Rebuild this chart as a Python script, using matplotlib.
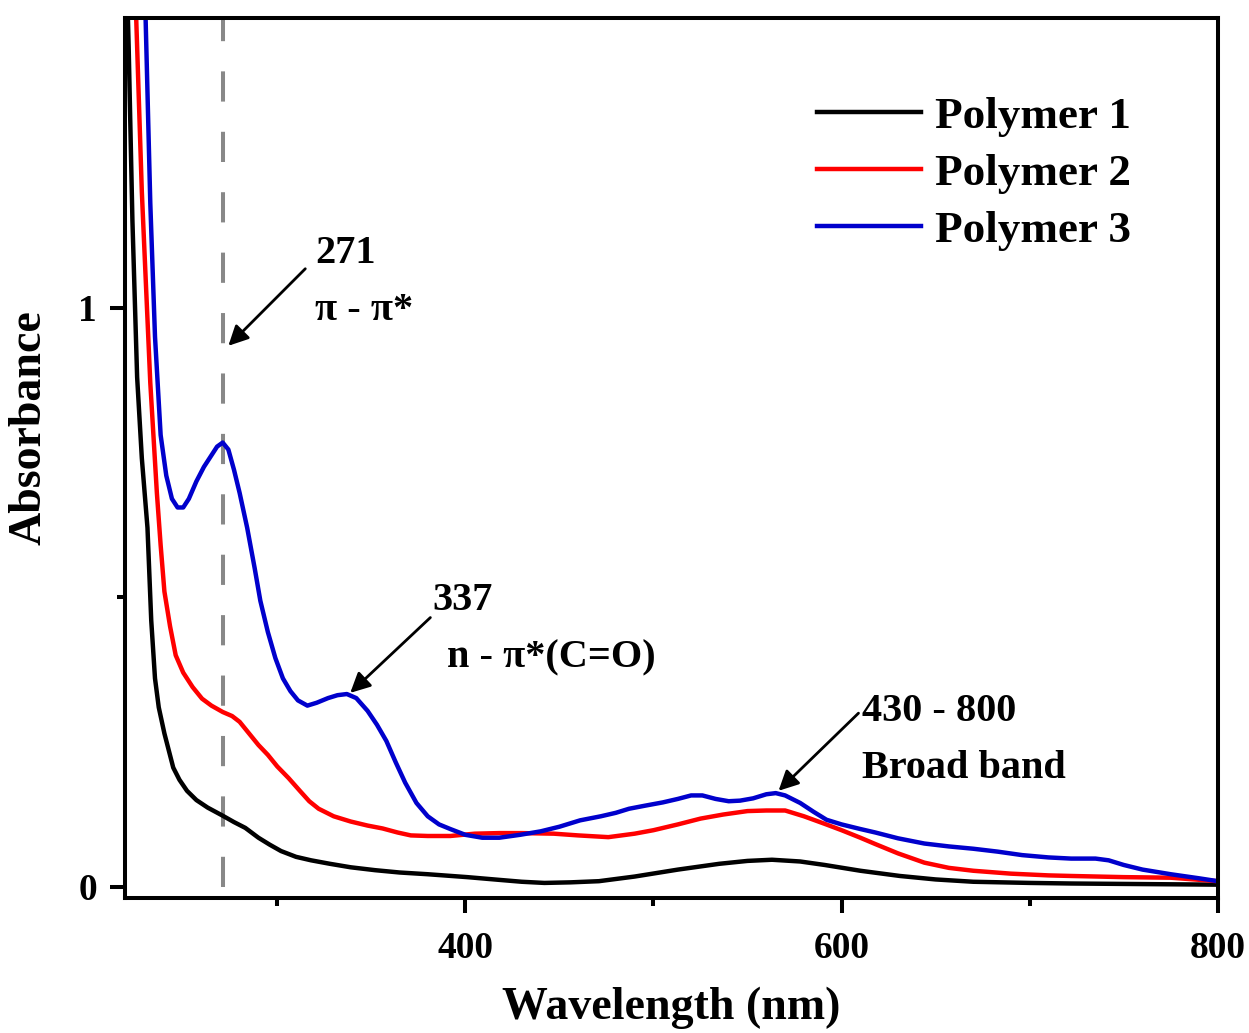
import matplotlib
matplotlib.use("Agg")
import matplotlib.pyplot as plt

plt.rcParams["font.family"] = ["Liberation Serif", "DejaVu Serif"]
plt.rcParams["font.weight"] = "bold"

# UV-Vis spectra (wavelength in nm, absorbance)
wl_p1 = [219, 221, 223, 225.5, 228, 231, 233, 235, 237, 240, 244.7, 248, 252,
         257, 263, 271, 277, 283, 290, 296, 302, 310, 318, 328, 339, 352, 365,
         380, 401, 419, 430, 442, 456, 471, 490, 513, 535, 550, 563, 578, 591,
         610, 631, 650, 670, 700, 722, 760, 800]
abs_p1 = [1.70, 1.45, 1.15, 0.88, 0.74, 0.62, 0.46, 0.36, 0.31, 0.265, 0.206,
          0.185, 0.166, 0.150, 0.137, 0.123, 0.112, 0.102, 0.085, 0.073, 0.062,
          0.052, 0.046, 0.040, 0.034, 0.029, 0.025, 0.022, 0.017, 0.012, 0.009,
          0.007, 0.008, 0.010, 0.018, 0.030, 0.040, 0.045, 0.047, 0.044, 0.038,
          0.028, 0.019, 0.013, 0.009, 0.007, 0.006, 0.005, 0.004]

wl_p2 = [223, 225, 228, 232.5, 236, 238, 240, 243, 246, 250, 255, 260, 265,
         271, 276, 280, 285, 290, 295, 300, 306, 312, 317, 322, 330, 339, 348,
         356, 364, 371, 380, 392, 405, 418, 430, 447, 460, 476, 490, 500, 513,
         525, 537, 550, 560, 570, 580, 591, 600, 610, 618, 630, 644, 657, 670,
         690, 710, 722, 750, 775, 800]
abs_p2 = [1.70, 1.50, 1.20, 0.87, 0.68, 0.59, 0.51, 0.45, 0.40, 0.37, 0.345,
          0.325, 0.313, 0.302, 0.295, 0.285, 0.265, 0.245, 0.228, 0.208, 0.188,
          0.166, 0.148, 0.135, 0.122, 0.113, 0.106, 0.101, 0.094, 0.089, 0.088,
          0.088, 0.092, 0.093, 0.093, 0.092, 0.089, 0.086, 0.092, 0.098, 0.108,
          0.118, 0.125, 0.131, 0.132, 0.132, 0.122, 0.109, 0.098, 0.085, 0.074,
          0.058, 0.042, 0.033, 0.028, 0.023, 0.020, 0.019, 0.017, 0.016, 0.010]

wl_p3 = [226, 230, 232.5, 235, 238, 241, 244, 247, 250, 253, 257, 261, 265,
         268, 271, 274, 277, 280, 284, 288, 291, 295, 299, 303, 307, 311, 316,
         321, 327, 332, 337, 342, 348, 353, 358, 363, 368, 374, 380, 386, 392,
         400, 409, 418, 429, 440, 450, 461, 472, 480, 487, 495, 505, 513, 520,
         526, 533, 540, 546, 553, 560, 565, 570, 578, 585, 592, 600, 610, 618,
         630, 644, 657, 670, 683, 696, 710, 722, 735, 742, 750, 760, 775, 790,
         800]
abs_p3 = [1.70, 1.50, 1.18, 0.95, 0.78, 0.71, 0.67, 0.655, 0.655, 0.67, 0.70,
          0.725, 0.745, 0.76, 0.767, 0.755, 0.72, 0.68, 0.62, 0.55, 0.494, 0.44,
          0.395, 0.36, 0.338, 0.322, 0.313, 0.318, 0.326, 0.331, 0.333, 0.326,
          0.304, 0.28, 0.252, 0.215, 0.18, 0.145, 0.122, 0.108, 0.100, 0.090,
          0.085, 0.085, 0.090, 0.096, 0.104, 0.115, 0.122, 0.128, 0.135, 0.140,
          0.146, 0.152, 0.158, 0.158, 0.152, 0.148, 0.149, 0.153, 0.160, 0.162,
          0.158, 0.145, 0.130, 0.116, 0.108, 0.100, 0.094, 0.084, 0.075, 0.070,
          0.066, 0.061, 0.055, 0.051, 0.049, 0.049, 0.046, 0.038, 0.030, 0.022,
          0.015, 0.010]

series = [
    ("Polymer 1", wl_p1, abs_p1, "#000000"),
    ("Polymer 2", wl_p2, abs_p2, "#ff0000"),
    ("Polymer 3", wl_p3, abs_p3, "#0000cc"),
]

marker_wl = 271

# band labels: (text lines, text anchor, arrow tail, arrow head, 2nd-line indent)
bands = [
    (("271", "π - π*"), (320, 1.093), (314.9, 1.067), (274, 0.934), 0),
    (("337", "n - π*(C=O)"), (382.4, 0.494), (381.4, 0.465), (338.8, 0.335), 8),
    (("430 - 800", "Broad band"), (611, 0.302), (609, 0.300), (566.5, 0.166), 0),
]

fig = plt.figure(figsize=(12.49, 10.33), dpi=100)
ax = fig.add_axes([0.100, 0.1307, 0.875, 0.852])

for name, wl, ab, color in series:
    ax.plot(wl, ab, color=color, lw=3.2, label=name)

ax.vlines(marker_wl, 0, 1.5, colors="#888888", lw=2.9,
          linestyles=(0, (7.5, 7.5)), zorder=0)

ax.set_xlim(219, 800)
ax.set_ylim(-0.019, 1.5)
ax.set_xticks([400, 600, 800])
ax.set_xticks([300, 500, 700], minor=True)
ax.set_yticks([0, 1])
ax.set_yticks([0.5], minor=True)

for side in ["left", "bottom", "right", "top"]:
    ax.spines[side].set_linewidth(2.9)
ax.tick_params(which="major", direction="out", length=11, width=2.9,
               labelsize=27)
ax.tick_params(which="minor", direction="out", length=6, width=2.9)
ax.tick_params(axis="x", which="major", pad=13)
ax.tick_params(axis="y", which="major", pad=9)
ax.tick_params(top=False, right=False)
for lbl in ax.get_xticklabels() + ax.get_yticklabels():
    lbl.set_fontweight("bold")

ax.set_xlabel("Wavelength (nm)", fontsize=33, fontweight="bold", va="center")
ax.set_ylabel("Absorbance", fontsize=33, fontweight="bold", va="center")
ax.xaxis.set_label_coords(0.5, -0.125)
ax.yaxis.set_label_coords(-0.087, 0.534)

for (top_txt, bot_txt), (tx, ty), tail, head, indent in bands:
    ax.annotate("", xy=head, xytext=tail,
                arrowprops=dict(arrowstyle="-|>", color="black", lw=2,
                                mutation_scale=30, shrinkA=0, shrinkB=0))
    ax.text(tx, ty, top_txt, fontsize=29, fontweight="bold", va="center",
            ha="left")
    ax.text(tx + indent, ty - 0.098, bot_txt, fontsize=29, fontweight="bold",
            va="center", ha="left")

leg = ax.legend(loc="upper left", bbox_to_anchor=(0.617, 0.931), frameon=False,
                prop=dict(size=32.5, weight="bold"), handlelength=2.3,
                handletextpad=0.3, labelspacing=0.36, borderaxespad=0)

fig.savefig("out.png", dpi=100)
